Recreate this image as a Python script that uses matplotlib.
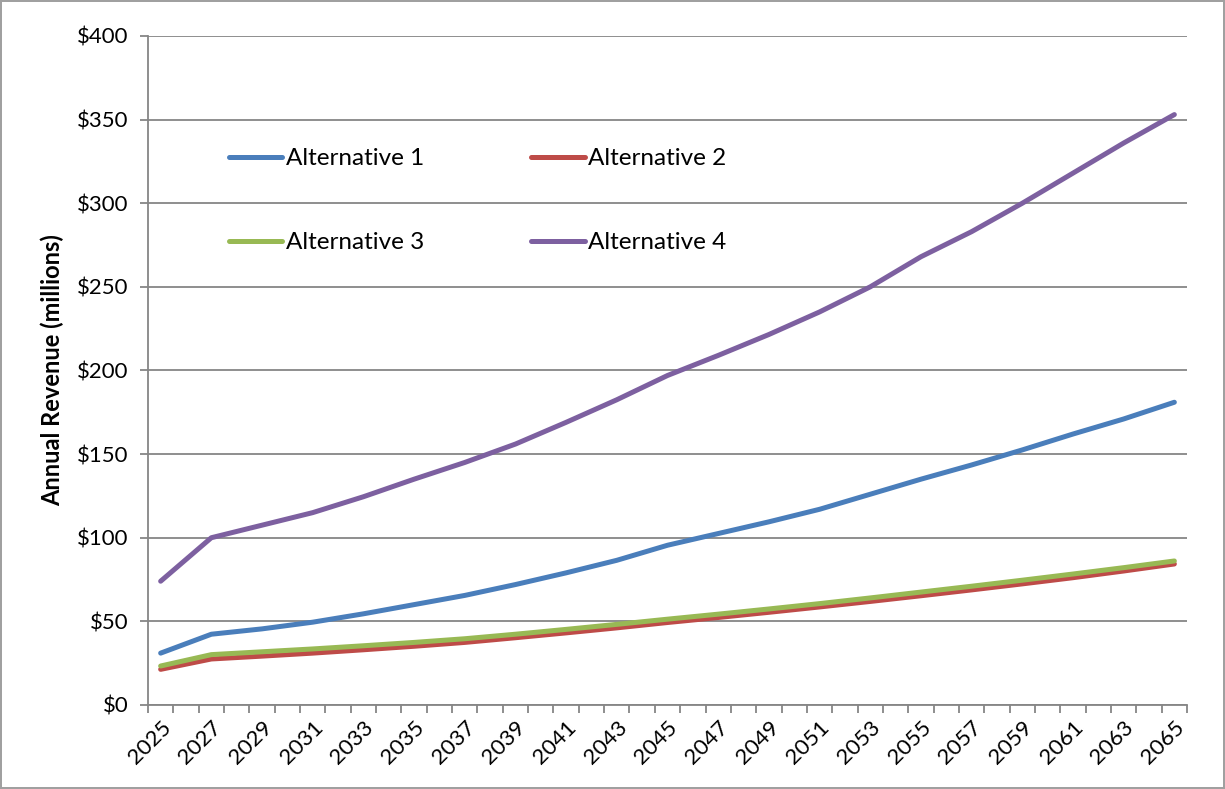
import numpy as np
import matplotlib.pyplot as plt
from matplotlib.lines import Line2D

# annual revenue projections, $ millions, odd years 2025-2065
years = list(range(2025, 2066, 2))
alt1 = [31, 42.3, 45.5, 49.5, 54.5, 60, 65.5, 72, 79, 86.5, 95.5, 102.5,
        109.5, 117, 126, 135, 143.5, 152.5, 162, 171, 181]
alt2 = [21.3, 27.5, 29.2, 31, 33, 35.1, 37.4, 40.2, 43.1, 46.1, 49.3, 52.3,
        55.4, 58.6, 61.9, 65.3, 68.8, 72.4, 76.1, 80.1, 84.3]
alt3 = [23.3, 30.1, 31.8, 33.5, 35.4, 37.4, 39.6, 42.3, 45.2, 48.2, 51.3, 54.3,
        57.4, 60.6, 64, 67.5, 71, 74.6, 78.3, 82.1, 86.1]
alt4 = [74, 100, 107.5, 115, 124.5, 135, 145, 156, 169, 182.5, 197, 209,
        221.5, 235, 250, 268, 283, 300, 318, 336, 353]
names = ["Alternative 1", "Alternative 2", "Alternative 3", "Alternative 4"]
colors = ["#4A7EBB", "#BE4B48", "#98B954", "#7D60A0"]

all_years = list(range(2025, 2066))
yticks = list(range(0, 401, 50))

plt.rcParams['font.family'] = ['Lato', 'DejaVu Sans']

fig = plt.figure(figsize=(12.25, 7.89), dpi=100)
fig.patch.set_edgecolor('#a0a0a0')
fig.patch.set_linewidth(1.5)
ax = fig.add_axes([0.1208, 0.1065, 0.969 - 0.1208, 0.9544 - 0.1065])

# categories are placed at integer positions, one per year
x = [y - all_years[0] for y in years]
for vals, c in zip([alt1, alt2, alt3, alt4], colors):
    ax.plot(x, vals, color=c, lw=3.6, solid_capstyle='round',
            solid_joinstyle='round', zorder=3)

ax.set_xlim(-0.5, len(all_years) - 0.5)
ax.set_ylim(0, 400)

# y axis
ax.set_yticks(yticks)
ax.set_yticklabels(['$%d' % v for v in yticks], fontsize=16)
ax.yaxis.grid(True, color='#868686', lw=1.3)
ax.set_axisbelow(True)
ax.tick_params(axis='y', length=6, width=1.3, color='#868686', pad=8)
ax.set_ylabel('Annual Revenue (millions)', fontsize=17, fontweight='bold',
              labelpad=9)

# x axis: tick marks between categories, labels every other year
ax.set_xticks(np.arange(-0.5, len(all_years)), minor=True)
ax.set_xticks(x)
ax.set_xticklabels([str(y) for y in years], fontsize=16, rotation=45,
                   ha='right', rotation_mode='anchor')
ax.tick_params(axis='x', which='major', length=0, pad=9)
ax.tick_params(axis='x', which='minor', length=6, width=1.3, color='#868686')

for s in ['top', 'right']:
    ax.spines[s].set_visible(False)
for s in ['left', 'bottom']:
    ax.spines[s].set_color('#868686')
    ax.spines[s].set_linewidth(1.3)

# legend filled row by row: 1, 2 / 3, 4
order = [0, 2, 1, 3]
handles = [Line2D([], [], color=colors[i], lw=3.6, solid_capstyle='round')
           for i in order]
ax.legend(handles, [names[i] for i in order], ncol=2, loc='upper left',
          frameon=False, bbox_to_anchor=(229 / 1225, 1 - 148 / 789),
          bbox_transform=fig.transFigure, fontsize=17.5, borderpad=0,
          borderaxespad=0, handlelength=2.2, handletextpad=0.15,
          labelspacing=2.6, columnspacing=4.4)

fig.savefig('out.png', dpi=100, edgecolor=fig.get_edgecolor())
